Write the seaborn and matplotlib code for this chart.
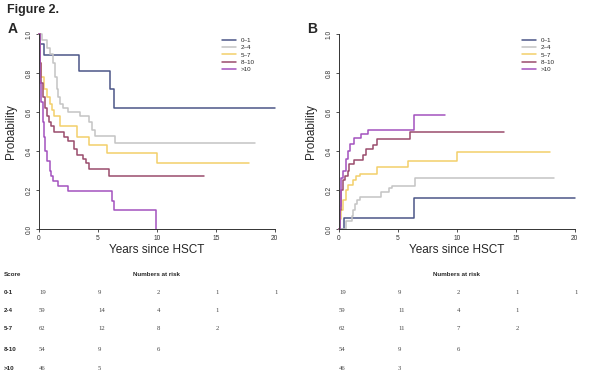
import pandas as pd
import seaborn as sns
import matplotlib.pyplot as plt

# score groups and colours
groups = ['0\u20131', '2\u20134', '5\u20137', '8\u201310', '>10']
row_labels = ['0-1', '2-4', '5-7', '8-10', '>10']
colors = ['#4b5687', '#c4c4c4', '#f3cf6a', '#9a4c6c', '#a352bf']

# Panel A: survival step curves (time, probability)
a_t = {
    '0\u20131': [0, 0.1, 0.4, 3.4, 6.05, 6.35, 20.0],
    '2\u20134': [0, 0.25, 0.65, 0.93, 1.2, 1.36, 1.5, 1.64, 1.78, 2.0, 2.5, 3.5, 4.2, 4.5, 4.75, 6.45, 18.3],
    '5\u20137': [0, 0.05, 0.2, 0.4, 0.7, 0.9, 1.1, 1.3, 1.75, 3.25, 4.27, 5.8, 10.0, 17.8],
    '8\u201310': [0, 0.05, 0.15, 0.3, 0.5, 0.7, 0.85, 1.0, 1.3, 2.1, 2.5, 3.0, 3.2, 3.7, 4.0, 4.2, 5.9, 14.0],
    '>10': [0, 0.05, 0.1, 0.2, 0.3, 0.4, 0.55, 0.7, 0.9, 1.05, 1.2, 1.6, 2.5, 6.2, 6.4, 9.9],
}
a_p = {
    '0\u20131': [1.0, 0.95, 0.895, 0.81, 0.72, 0.62, 0.62],
    '2\u20134': [1.0, 0.97, 0.93, 0.9, 0.85, 0.78, 0.72, 0.68, 0.64, 0.62, 0.60, 0.58, 0.55, 0.51, 0.48, 0.44, 0.44],
    '5\u20137': [1.0, 0.85, 0.78, 0.72, 0.68, 0.64, 0.61, 0.58, 0.53, 0.47, 0.43, 0.39, 0.34, 0.34],
    '8\u201310': [1.0, 0.85, 0.75, 0.68, 0.62, 0.58, 0.55, 0.53, 0.50, 0.47, 0.45, 0.41, 0.38, 0.36, 0.34, 0.31, 0.273, 0.273],
    '>10': [1.0, 0.85, 0.75, 0.65, 0.55, 0.47, 0.40, 0.35, 0.30, 0.27, 0.245, 0.22, 0.197, 0.145, 0.10, 0.0],
}

# Panel B: cumulative incidence step curves
b_t = {
    '0\u20131': [0, 0.45, 6.35, 20.0],
    '2\u20134': [0, 0.6, 1.07, 1.2, 1.35, 1.5, 1.78, 3.6, 4.2, 4.5, 6.45, 18.2],
    '5\u20137': [0, 0.1, 0.2, 0.35, 0.6, 0.8, 1.2, 1.4, 1.8, 3.2, 5.85, 10.0, 17.9],
    '8\u201310': [0, 0.05, 0.15, 0.35, 0.55, 0.75, 0.85, 1.3, 2.0, 2.3, 2.9, 3.2, 6.0, 14.0],
    '>10': [0, 0.05, 0.15, 0.35, 0.6, 0.75, 0.9, 1.3, 1.9, 2.5, 6.35, 9.0],
}
b_p = {
    '0\u20131': [0.0, 0.055, 0.158, 0.158],
    '2\u20134': [0.0, 0.04, 0.065, 0.1, 0.13, 0.15, 0.167, 0.19, 0.21, 0.22, 0.26, 0.26],
    '5\u20137': [0.0, 0.05, 0.1, 0.15, 0.2, 0.227, 0.25, 0.27, 0.283, 0.317, 0.35, 0.397, 0.397],
    '8\u201310': [0.0, 0.1, 0.2, 0.25, 0.27, 0.3, 0.334, 0.357, 0.38, 0.41, 0.43, 0.46, 0.497, 0.497],
    '>10': [0.0, 0.12, 0.26, 0.3, 0.36, 0.40, 0.437, 0.466, 0.488, 0.509, 0.585, 0.585],
}

# numbers at risk at years 0, 5, 10, 15, 20
risk_years = [0, 5, 10, 15, 20]
risk_a = [[19, 9, 2, 1, 1], [59, 14, 4, 1], [62, 12, 8, 2], [54, 9, 6], [46, 5]]
risk_b = [[19, 9, 2, 1, 1], [59, 11, 4, 1], [62, 11, 7, 2], [54, 9, 6], [46, 3]]


def to_long(times, probs):
    rows = []
    for g in groups:
        for t, p in zip(times[g], probs[g]):
            rows.append({'Years': t, 'Probability': p, 'Score': g})
    return pd.DataFrame(rows)


sns.set_style('white')
plt.rcParams['font.family'] = ['Liberation Sans', 'DejaVu Sans']

fig = plt.figure(figsize=(6, 3.75), dpi=100)
fig.text(0.012, 0.99, 'Figure 2.', fontsize=9, fontweight='bold', va='top')

AX_W = 0.393
panels = [('A', 0.065, a_t, a_p, risk_a), ('B', 0.565, b_t, b_p, risk_b)]
for letter, x0, times, probs, risk in panels:
    ax = fig.add_axes([x0, 0.389, AX_W, 0.52])
    df = to_long(times, probs)
    sns.lineplot(data=df, x='Years', y='Probability', hue='Score', hue_order=groups,
                 palette=colors, estimator=None, sort=False, drawstyle='steps-post',
                 linewidth=1.1, clip_on=False, ax=ax)
    ax.set_xlim(0, 20)
    ax.set_ylim(0, 1)
    ax.set_xticks([0, 5, 10, 15, 20])
    ax.set_yticks([0, 0.2, 0.4, 0.6, 0.8, 1.0])
    ax.set_yticklabels(['0.0', '0.2', '0.4', '0.6', '0.8', '1.0'], rotation=90, va='center')
    ax.tick_params(axis='both', labelsize=4.8, length=2.5, width=0.6, pad=2,
                   direction='out', left=True, bottom=True, colors='#333333')
    for s in ['top', 'right']:
        ax.spines[s].set_visible(False)
    for s in ['left', 'bottom']:
        ax.spines[s].set_linewidth(0.7)
        ax.spines[s].set_color('#333333')
    ax.set_xlabel('Years since HSCT', fontsize=8.5, labelpad=1)
    ax.set_ylabel('Probability', fontsize=8.5, labelpad=6)
    ax.legend(loc='upper left', bbox_to_anchor=(0.752, 1.01), frameon=False, fontsize=4.5,
              handlelength=2.2, labelspacing=0.3, handletextpad=0.8, title=None)
    fig.text(x0 - 0.053, 0.941, letter, fontsize=10, fontweight='bold', va='top')

    # numbers at risk table
    tx = lambda yr: x0 + AX_W * yr / 20.0
    fig.text(tx(10), 0.267, 'Numbers at risk', fontsize=4.5, fontweight='bold', ha='center', va='center')
    if letter == 'A':
        fig.text(0.006, 0.267, 'Score', fontsize=4.5, fontweight='bold', va='center')
    row_y = [0.219, 0.171, 0.123, 0.069, 0.016]
    for i, vals in enumerate(risk):
        if letter == 'A':
            fig.text(0.006, row_y[i], row_labels[i], fontsize=4.5, fontweight='bold', va='center')
        for yr, v in zip(risk_years, vals):
            fig.text(tx(yr), row_y[i], str(v), fontsize=4.8, va='center', color='#444444',
                     family=['Liberation Serif', 'DejaVu Serif'])

fig.savefig('out.png', dpi=100)
